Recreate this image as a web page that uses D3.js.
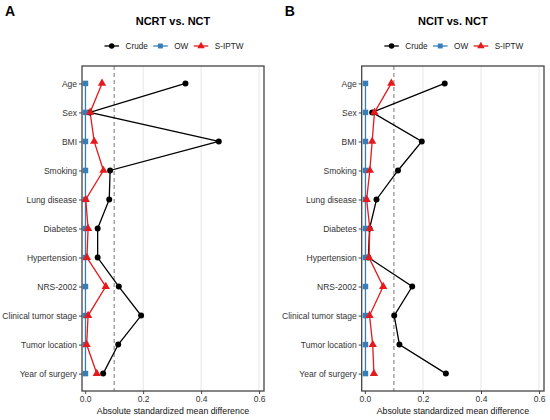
<!DOCTYPE html>
<html>
<head>
<meta charset="utf-8">
<script src="https://cdn.jsdelivr.net/npm/d3@7"></script>
<style>
  body { margin: 0; background: #fff; }
  text { font-family: "Liberation Sans", Arial, sans-serif; }
</style>
</head>
<body>
<svg id="chart" width="550" height="420"></svg>
<script>
// covariate balance plot, two panels

// DATA
var covariates = ["Age", "Sex", "BMI", "Smoking", "Lung disease", "Diabetes",
    "Hypertension", "NRS-2002", "Clinical tumor stage", "Tumor location", "Year of surgery"];
var methods = ["Crude", "OW", "S-IPTW"];
var xTicks = [0.0, 0.2, 0.4, 0.6];

// panel A: NCRT vs. NCT
var crudeA = [0.346, 0.016, 0.461, 0.086, 0.083, 0.043, 0.043, 0.116, 0.193, 0.114, 0.062];
var owA    = [0.001, 0.001, 0.001, 0.001, 0.001, 0.001, 0.001, 0.001, 0.001, 0.001, 0.001];
var siptwA = [0.058, 0.017, 0.031, 0.063, 0.002, 0.010, 0.006, 0.071, 0.010, 0.005, 0.040];

// panel B: NCIT vs. NCT
var crudeB = [0.275, 0.025, 0.196, 0.114, 0.040, 0.016, 0.012, 0.163, 0.101, 0.119, 0.279];
var owB    = [0.002, 0.002, 0.002, 0.002, 0.002, 0.002, 0.002, 0.002, 0.002, 0.002, 0.002];
var siptwB = [0.091, 0.033, 0.025, 0.017, 0.006, 0.017, 0.014, 0.063, 0.016, 0.027, 0.031];

var colors = {"Crude": "#000000", "OW": "#377EB8", "S-IPTW": "#E41A1C"};

var svg = d3.select("#chart");

// plot area bounds
var top_ = 66, bottom_ = 391;

function shapeOf(m) {
    return m === "Crude" ? d3.symbolCircle : (m === "OW" ? d3.symbolSquare : d3.symbolTriangle);
}

function drawPanel(letter, title, left, right, series) {
    var g = svg.append("g");

    var x = d3.scaleLinear().domain([-0.011, 0.617]).range([left, right]);
    var y = d3.scalePoint().domain(covariates).range([top_, bottom_]).padding(0.6);

    // grid
    g.selectAll(".grid").data([0.2, 0.4, 0.6]).enter().append("line")
        .attr("x1", d => x(d)).attr("x2", d => x(d))
        .attr("y1", top_).attr("y2", bottom_)
        .style("stroke", "#e3e3e3").style("stroke-width", 0.9);

    // threshold line
    g.append("line")
        .attr("x1", x(0.1)).attr("x2", x(0.1))
        .attr("y1", top_).attr("y2", bottom_)
        .style("stroke", "#777").style("stroke-width", 1)
        .style("stroke-dasharray", "4,3");

    // axes
    var yAxis = g.append("g")
        .attr("transform", "translate(" + left + ",0)")
        .call(d3.axisLeft(y).tickSize(3).tickPadding(2));
    var xAxis = g.append("g")
        .attr("transform", "translate(0," + bottom_ + ")")
        .call(d3.axisBottom(x).tickValues(xTicks).tickFormat(d3.format(".1f")).tickSize(3).tickPadding(2));
    [yAxis, xAxis].forEach(function(a) {
        a.select(".domain").remove();
        a.selectAll(".tick line").style("stroke", "#444");
        a.selectAll(".tick text").style("fill", "#333")
            .style("font-size", "8.5px").style("font-family", "Liberation Sans, Arial, sans-serif");
    });

    // lines
    var line = d3.line().x(d => x(d.v)).y(d => y(d.c));
    methods.forEach(function(m) {
        var pts = series[m].map((v, i) => ({v: v, c: covariates[i]}));
        g.append("path").datum(pts)
            .attr("d", line)
            .style("fill", "none")
            .style("stroke", colors[m])
            .style("stroke-width", 1.3);
    });

    // points
    methods.forEach(function(m) {
        var pts = series[m].map((v, i) => ({v: v, c: covariates[i]}));
        g.selectAll(".pt" + m).data(pts).enter().append("path")
            .attr("d", d3.symbol().type(shapeOf(m)).size(m === "Crude" ? 28 : 30))
            .attr("transform", d => "translate(" + x(d.v) + "," + y(d.c) + ")")
            .style("fill", colors[m]);
    });

    // frame
    g.append("rect")
        .attr("x", left).attr("y", top_)
        .attr("width", right - left).attr("height", bottom_ - top_)
        .style("fill", "none").style("stroke", "#444").style("stroke-width", 1.3);

    var cx = (left + right) / 2;

    // title
    g.append("text").attr("x", cx).attr("y", 25)
        .attr("text-anchor", "middle")
        .style("font-size", "11px").style("font-weight", "bold")
        .text(title);

    // axis title
    g.append("text").attr("x", cx).attr("y", 414)
        .attr("text-anchor", "middle")
        .style("font-size", "8.8px").style("fill", "#111")
        .text("Absolute standardized mean difference");

    // panel letter
    g.append("text").attr("x", left - 77).attr("y", 16)
        .style("font-size", "14px").style("font-weight", "bold")
        .text(letter);

    // legend
    var lg = g.append("g").attr("transform", "translate(" + (cx - 68.5) + ",46)");
    var offs = [0, 48.7, 89.3];
    methods.forEach(function(m, i) {
        var k = lg.append("g").attr("transform", "translate(" + offs[i] + ",0)");
        k.append("line").attr("x1", 0).attr("x2", 14.5)
            .style("stroke", colors[m]).style("stroke-width", 1.3);
        k.append("path").attr("d", d3.symbol().type(shapeOf(m)).size(24))
            .attr("transform", "translate(7.2,0)").style("fill", colors[m]);
        k.append("text").attr("x", 21).attr("y", 3)
            .style("font-size", "8.2px").style("fill", "#222").text(m);
    });
}

drawPanel("A", "NCRT vs. NCT", 82, 264, {"Crude": crudeA, "OW": owA, "S-IPTW": siptwA});
drawPanel("B", "NCIT vs. NCT", 361.7, 544, {"Crude": crudeB, "OW": owB, "S-IPTW": siptwB});
</script>
</body>
</html>
